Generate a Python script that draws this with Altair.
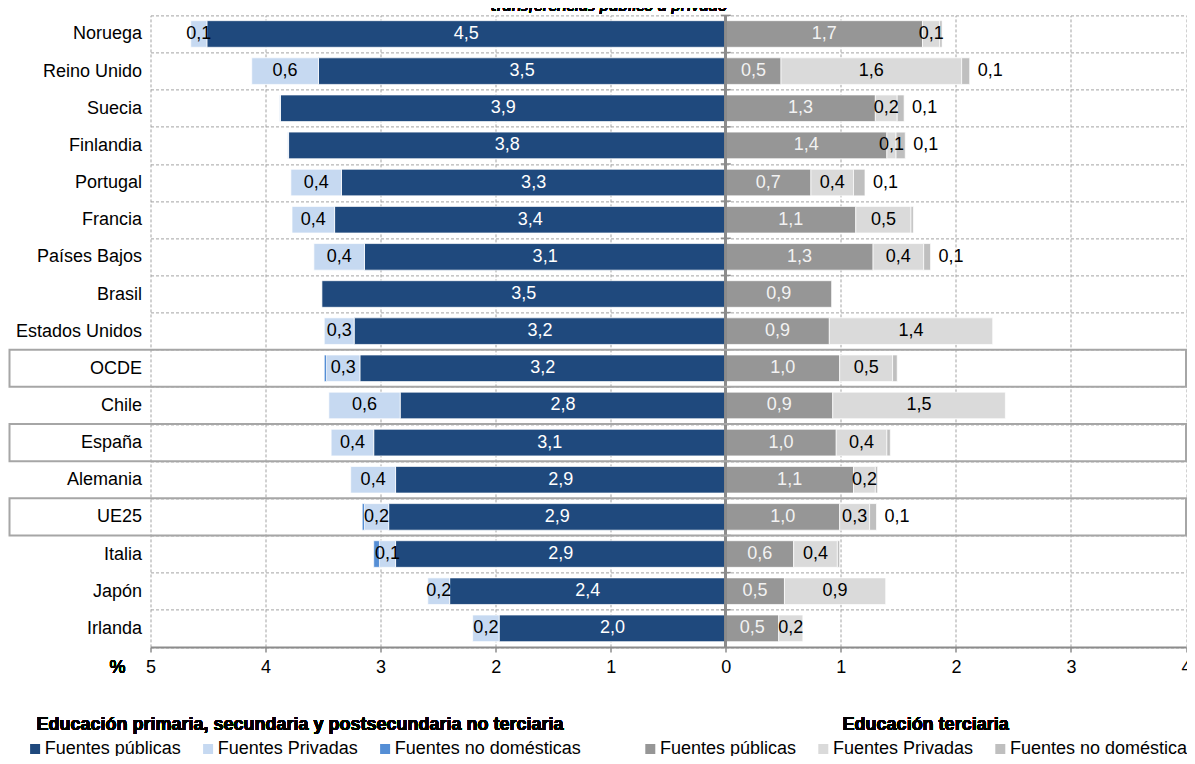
import altair as alt
import pandas as pd

# ---------------- data ----------------
paises = ["Noruega", "Reino Unido", "Suecia", "Finlandia", "Portugal", "Francia",
          "Países Bajos", "Brasil", "Estados Unidos", "OCDE", "Chile", "España",
          "Alemania", "UE25", "Italia", "Japón", "Irlanda"]
prim_publicas = [4.51, 3.54, 3.87, 3.80, 3.34, 3.40, 3.14, 3.51, 3.23, 3.18, 2.83, 3.06, 2.87, 2.93, 2.87, 2.40, 1.97]
prim_privadas = [0.14, 0.58, 0.01, 0.01, 0.44, 0.37, 0.44, 0.0, 0.26, 0.29, 0.62, 0.37, 0.39, 0.21, 0.14, 0.19, 0.23]
prim_no_domesticas = [0, 0, 0, 0, 0, 0, 0, 0, 0, 0.02, 0, 0, 0, 0.02, 0.05, 0, 0]
ter_publicas = [1.71, 0.48, 1.30, 1.40, 0.74, 1.13, 1.28, 0.92, 0.90, 0.99, 0.93, 0.96, 1.11, 0.99, 0.59, 0.51, 0.46]
ter_privadas = [0.15, 1.57, 0.19, 0.08, 0.37, 0.48, 0.44, 0.0, 1.42, 0.46, 1.50, 0.44, 0.19, 0.26, 0.38, 0.88, 0.21]
ter_no_domesticas = [0.02, 0.07, 0.06, 0.08, 0.10, 0.02, 0.06, 0, 0, 0.04, 0, 0.03, 0.02, 0.06, 0.02, 0, 0]
fuentes = ["Fuentes públicas", "Fuentes Privadas", "Fuentes no domésticas"]
ticks_x = [-5, -4, -3, -2, -1, 0, 1, 2, 3, 4]
recuadros = ["OCDE", "España", "UE25"]
titulo = "transferencias público a privado"
titulo_prim = "Educación primaria, secundaria y postsecundaria no terciaria"
titulo_ter = "Educación terciaria"

colores_prim = ["#1F497D", "#C6D9F1", "#558ED5"]
colores_ter = ["#969696", "#DADADA", "#BFBFBF"]
FONT = "Liberation Sans"
GRID = "#A3A3A3"
AXIS = "#8C8C8C"


def fmt(v):
    return f"{v:.1f}".replace(".", ",")


seg_prim, seg_ter = [], []
lab_blanco, lab_negro, lab_fuera = [], [], []
for i, p in enumerate(paises):
    acc = 0.0
    for f, v in zip(fuentes, [prim_publicas[i], prim_privadas[i], prim_no_domesticas[i]]):
        if v > 0:
            seg_prim.append({"pais": p, "fuente": f, "ini": -acc, "fin": -(acc + v)})
        acc += v
    acc = 0.0
    for f, v in zip(fuentes, [ter_publicas[i], ter_privadas[i], ter_no_domesticas[i]]):
        if v > 0:
            seg_ter.append({"pais": p, "fuente": f, "ini": acc, "fin": acc + v})
        acc += v
    lab_blanco.append({"pais": p, "x": -prim_publicas[i] / 2, "t": fmt(prim_publicas[i]), "lado": "prim"})
    lab_blanco.append({"pais": p, "x": ter_publicas[i] / 2, "t": fmt(ter_publicas[i]), "lado": "ter"})
    if prim_privadas[i] >= 0.05:
        lab_negro.append({"pais": p, "x": -(prim_publicas[i] + prim_privadas[i] / 2), "t": fmt(prim_privadas[i])})
    if ter_privadas[i] >= 0.05:
        lab_negro.append({"pais": p, "x": ter_publicas[i] + ter_privadas[i] / 2, "t": fmt(ter_privadas[i])})
    if ter_no_domesticas[i] >= 0.05:
        lab_fuera.append({"pais": p, "x": ter_publicas[i] + ter_privadas[i] + ter_no_domesticas[i],
                          "t": fmt(ter_no_domesticas[i])})

df_prim = pd.DataFrame(seg_prim)
df_ter = pd.DataFrame(seg_ter)
df_blanco = pd.DataFrame(lab_blanco)
df_negro = pd.DataFrame(lab_negro)
df_fuera = pd.DataFrame(lab_fuera)
df_paises = pd.DataFrame({"pais": paises})
df_rec = pd.DataFrame({"pais": recuadros})

W, H = 1035.5, 631.5
xscale = alt.Scale(domain=[-5, 4], nice=False, zero=False)
yscale = alt.Scale(domain=paises, paddingInner=0, paddingOuter=0)

xaxis = alt.Axis(values=ticks_x, labelExpr="abs(datum.value)", title=None, grid=True,
                 gridColor=GRID, gridDash=[3, 2], gridWidth=1, domain=True, domainColor=AXIS,
                 domainWidth=2, ticks=True, tickColor=AXIS, tickSize=5, tickWidth=1.5,
                 labelFont=FONT, labelFontSize=18, labelColor="#000000", labelPadding=7,
                 labelFlush=False, labelOverlap=False)
yaxis = alt.Axis(title=None, grid=True, gridColor=GRID, gridDash=[3, 2], gridWidth=1,
                 tickBand="extent", domain=False, ticks=False, tickSize=0, labelPadding=9,
                 labelFont=FONT, labelFontSize=18, labelColor="#000000", labelLimit=300,
                 labelOverlap=False)


def Y(**kw):
    return alt.Y("pais:N", sort=paises, scale=yscale, axis=yaxis, **kw)


def X(field):
    return alt.X(field, type="quantitative", scale=xscale, axis=xaxis)


def leyenda(x):
    return alt.Legend(orient="none", legendX=x, legendY=724.6, direction="horizontal", title=None,
                      symbolType="square", symbolSize=100, symbolStrokeWidth=0,
                      labelFont=FONT, labelFontSize=18, labelColor="#000000", labelOffset=0.6,
                      columnPadding=18, padding=0, labelLimit=400)


barras_prim = alt.Chart(df_prim).mark_bar(size=26.6, stroke="white", strokeWidth=0.7).encode(
    x=X("ini"), x2="fin", y=Y(),
    color=alt.Color("fuente:N", scale=alt.Scale(domain=fuentes, range=colores_prim),
                    legend=leyenda(-124.4)),
)
barras_ter = alt.Chart(df_ter).mark_bar(size=26.6, stroke="white", strokeWidth=0.7).encode(
    x=X("ini"), x2="fin", y=Y(),
    color=alt.Color("fuente:N", scale=alt.Scale(domain=fuentes, range=colores_ter),
                    legend=leyenda(490.8)),
)

cero = alt.Chart(df_paises).mark_rule(color=AXIS, strokeWidth=2).encode(x=alt.datum(0))
cero_ticks = alt.Chart(df_paises).mark_rule(color=AXIS, strokeWidth=1.5, xOffset=-5, x2Offset=5).encode(
    x=alt.datum(0), x2=alt.datum(0), y=Y(bandPosition=0))

recuadro = alt.Chart(df_rec).mark_rect(fillOpacity=0, stroke="#A6A6A6", strokeWidth=2).encode(
    y=Y(), x=alt.value(-141), x2=alt.value(W))

txt_blanco = alt.Chart(df_blanco).mark_text(font=FONT, fontSize=18, baseline="middle").encode(
    x=X("x"), y=Y(), text="t:N",
    color=alt.condition(alt.datum.lado == "prim", alt.value("#FFFFFF"), alt.value("#F2F2F2")))
txt_negro = alt.Chart(df_negro).mark_text(font=FONT, fontSize=18, baseline="middle", color="#000000").encode(
    x=X("x"), y=Y(), text="t:N")
txt_fuera = alt.Chart(df_fuera).mark_text(font=FONT, fontSize=18, baseline="middle", align="left",
                                          dx=8, color="#000000").encode(
    x=X("x"), y=Y(), text="t:N")

pct = alt.Chart(df_paises).mark_text(text="%", font=FONT, fontSize=18, baseline="top",
                                     align="center", color="#000000").encode(
    x=alt.value(-33), y=alt.value(H + 12))
tit = alt.Chart(df_paises).mark_text(text=titulo, font="Lato", fontStyle="italic", fontSize=18,
                                     baseline="alphabetic", align="center", color="#000000").encode(
    x=alt.value(458.5), y=alt.value(-4.4))
tit_prim = alt.Chart(df_paises).mark_text(text=titulo_prim, font=FONT, fontSize=18, fontWeight="bold",
                                          baseline="alphabetic", align="left", color="#000000").encode(
    x=alt.value(-114.1), y=alt.value(714.6))
tit_ter = alt.Chart(df_paises).mark_text(text=titulo_ter, font=FONT, fontSize=18, fontWeight="bold",
                                         baseline="alphabetic", align="left", color="#000000").encode(
    x=alt.value(692.1), y=alt.value(714.6))

chart = alt.layer(
    barras_prim, barras_ter, cero, cero_ticks, recuadro,
    txt_blanco, txt_negro, txt_fuera, pct, tit, tit_prim, tit_ter,
).resolve_scale(color="independent").properties(
    width=W, height=H,
    padding={"left": 142.5, "top": 7.4, "right": 1, "bottom": 109.1},
    autosize=alt.AutoSizeParams(type="none"),
).configure_view(stroke=None)

chart.save("out.html", embed_options={"renderer": "svg", "actions": False})
